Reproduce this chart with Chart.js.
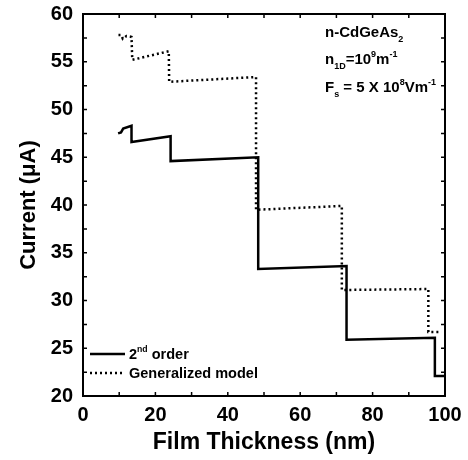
<!DOCTYPE html>
<html lang="en">
<head>
  <meta charset="UTF-8">
  <title>Current vs Film Thickness - n-CdGeAs2</title>
  <script src="https://cdn.jsdelivr.net/npm/chart.js"></script>
  <style>
    body { margin: 0; background: #fff; }
    #wrap { width: 468px; height: 460px; }
  </style>
</head>
<body>
  <div id="wrap"><canvas id="chart"></canvas></div>

  <script>
    // 2nd order current (uA) vs film thickness (nm)
    const orderX = [9.7, 10.5, 11.1, 13.4, 13.4, 24.2, 24.2, 48.4, 48.4, 72.8, 72.8, 97.2, 97.2, 99.8];
    const orderY = [47.5, 47.6, 48.0, 48.3, 46.6, 47.2, 44.6, 45.0, 33.3, 33.6, 25.9, 26.1, 22.1, 22.1];

    // generalized model
    const genX = [9.8, 10.6, 11.0, 12.0, 13.4, 13.6, 23.7, 23.8, 47.8, 47.8, 71.5, 71.5, 95.4, 95.4, 99.0];
    const genY = [57.8, 57.8, 57.4, 57.7, 57.6, 55.2, 56.1, 52.9, 53.4, 39.5, 39.9, 31.1, 31.2, 26.7, 26.7];

    const xTicks = [0, 20, 40, 60, 80, 100];
    const yTicks = [20, 25, 30, 35, 40, 45, 50, 55, 60];

    const FONT = '"Liberation Sans", Arial, sans-serif';

    function pts(xs, ys) {
      return xs.map((x, i) => ({ x: x, y: ys[i] }));
    }

    // draws text runs with sub/superscripts, returns end x
    function drawRuns(ctx, runs, x, y, size) {
      runs.forEach(r => {
        const txt = r[0], mode = r[1] || '';
        let fs = size, dy = 0;
        if (mode === 'sub') { fs = size * 0.6; dy = size * 0.35; }
        if (mode === 'sup') { fs = size * 0.6; dy = -size * 0.45; }
        ctx.font = 'bold ' + fs + 'px ' + FONT;
        ctx.fillText(txt, x, y + dy);
        x += ctx.measureText(txt).width;
      });
      return x;
    }

    const framePlugin = {
      id: 'frame',
      afterDraw(chart) {
        const ctx = chart.ctx;
        const a = chart.chartArea;
        const xs = chart.scales.x, ys = chart.scales.y;
        ctx.save();
        ctx.strokeStyle = '#000';
        ctx.lineWidth = 2;
        ctx.strokeRect(a.left, a.top, a.right - a.left, a.bottom - a.top);

        // inward ticks on all four sides
        ctx.lineWidth = 1.5;
        ctx.beginPath();
        for (let v = 0; v <= 100; v += 10) {
          const px = xs.getPixelForValue(v);
          ctx.moveTo(px, a.bottom); ctx.lineTo(px, a.bottom - 4);
          ctx.moveTo(px, a.top); ctx.lineTo(px, a.top + 4);
        }
        for (let v = 20; v <= 60; v += 2.5) {
          const py = ys.getPixelForValue(v);
          ctx.moveTo(a.left, py); ctx.lineTo(a.left + 4, py);
          ctx.moveTo(a.right, py); ctx.lineTo(a.right - 4, py);
        }
        ctx.stroke();

        // annotation
        ctx.fillStyle = '#000';
        ctx.textBaseline = 'alphabetic';
        ctx.textAlign = 'left';
        drawRuns(ctx, [['n-CdGeAs'], ['2', 'sub']], 325, 37, 15);
        drawRuns(ctx, [['n'], ['1D', 'sub'], ['=10'], ['9', 'sup'], ['m'], ['-1', 'sup']], 325, 64, 15);
        drawRuns(ctx, [['F'], ['s', 'sub'], [' = 5 X 10'], ['8', 'sup'], ['Vm'], ['-1', 'sup']], 325, 92, 15);

        // legend
        ctx.lineWidth = 2.5;
        ctx.beginPath();
        ctx.moveTo(90, 354); ctx.lineTo(125, 354);
        ctx.stroke();
        ctx.setLineDash([2, 3]);
        ctx.beginPath();
        ctx.moveTo(90, 373); ctx.lineTo(125, 373);
        ctx.stroke();
        ctx.setLineDash([]);
        drawRuns(ctx, [['2'], ['nd', 'sup'], [' order']], 129, 359, 14.5);
        drawRuns(ctx, [['Generalized model']], 129, 378, 14.5);
        ctx.restore();
      }
    };

    new Chart(document.getElementById('chart'), {
      type: 'scatter',
      data: {
        datasets: [
          {
            label: '2nd order',
            data: pts(orderX, orderY),
            showLine: true,
            borderColor: '#000',
            borderWidth: 2.5,
            pointRadius: 0,
            tension: 0
          },
          {
            label: 'Generalized model',
            data: pts(genX, genY),
            showLine: true,
            borderColor: '#000',
            borderWidth: 2.5,
            borderDash: [2, 3],
            pointRadius: 0,
            tension: 0
          }
        ]
      },
      options: {
        responsive: true,
        maintainAspectRatio: false,
        animation: false,
        layout: { padding: { top: 14, right: 23, left: 0, bottom: 0 } },
        plugins: { legend: { display: false }, tooltip: { enabled: false } },
        scales: {
          x: {
            type: 'linear',
            min: 0, max: 100,
            afterFit: s => { s.height = 64; s.paddingLeft = 0; s.paddingRight = 0; },
            afterBuildTicks: s => { s.ticks = xTicks.map(v => ({ value: v })); },
            grid: { display: false, drawTicks: false },
            border: { display: false },
            ticks: { color: '#000', padding: 7, font: { family: FONT, size: 20, weight: 'bold' } },
            title: {
              display: true,
              text: 'Film Thickness (nm)',
              color: '#000',
              padding: { top: 0, bottom: 4 },
              font: { family: FONT, size: 23, weight: 'bold' }
            }
          },
          y: {
            min: 20, max: 60,
            afterFit: s => { s.width = 83; s.paddingTop = 0; s.paddingBottom = 0; },
            afterBuildTicks: s => { s.ticks = yTicks.map(v => ({ value: v })); },
            grid: { display: false, drawTicks: false },
            border: { display: false },
            ticks: { color: '#000', padding: 10, font: { family: FONT, size: 20, weight: 'bold' } },
            title: {
              display: true,
              text: 'Current (\u03bcA)',
              color: '#000',
              padding: { top: 16, bottom: 0 },
              font: { family: FONT, size: 22, weight: 'bold' }
            }
          }
        }
      },
      plugins: [framePlugin]
    });
  </script>
</body>
</html>
